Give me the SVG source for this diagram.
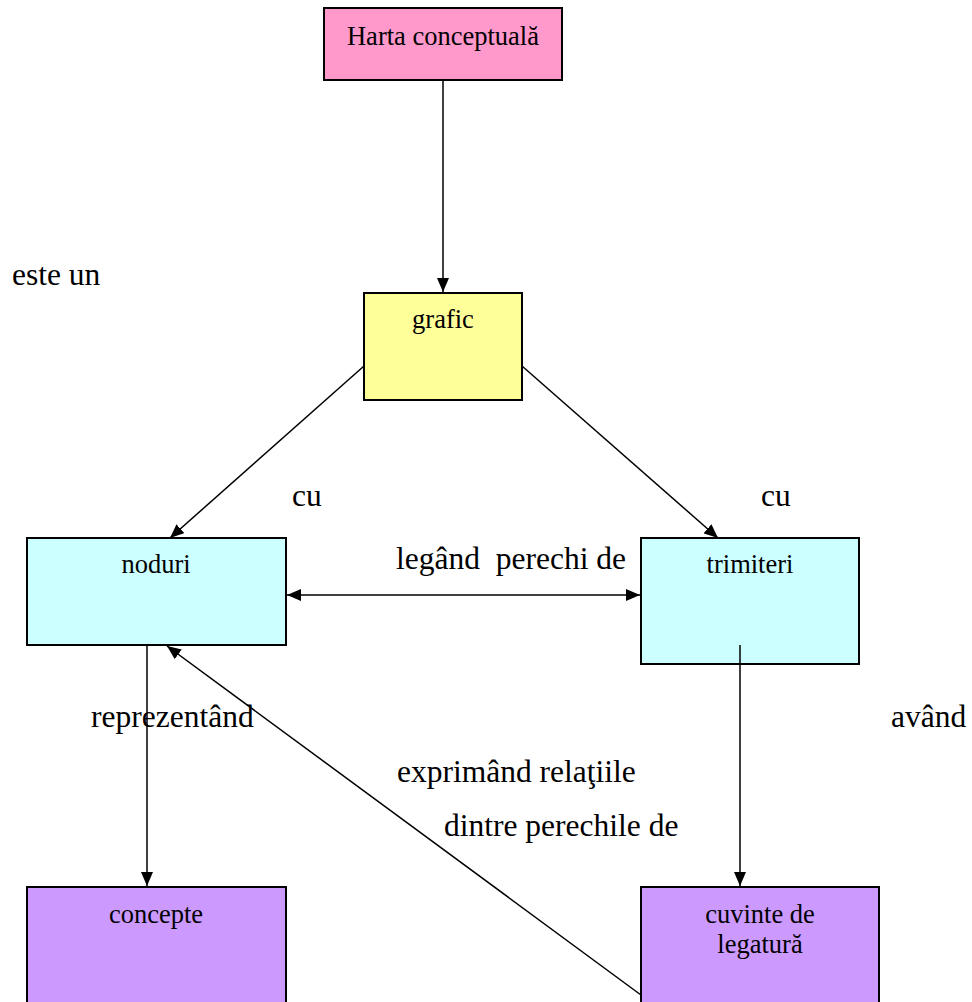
<svg xmlns="http://www.w3.org/2000/svg" width="972" height="1002" viewBox="0 0 972 1002">
<style>
.box{stroke:#000;stroke-width:2}
.bt{font-family:"Liberation Serif","Times New Roman",serif;font-size:26.5px;fill:#000;text-anchor:middle}
.lb{font-family:"Liberation Serif","Times New Roman",serif;font-size:31.5px;fill:#000}
.ln{stroke:#000;stroke-width:1.5;fill:none}
</style>
<defs>
<marker id="ah" viewBox="0 0 14 12" refX="14" refY="6" markerWidth="14" markerHeight="12" markerUnits="userSpaceOnUse" orient="auto">
<path d="M0,0 L14,6 L0,12 z" fill="#000"/>
</marker>
<marker id="as" viewBox="0 0 14 12" refX="0" refY="6" markerWidth="14" markerHeight="12" markerUnits="userSpaceOnUse" orient="auto">
<path d="M14,0 L0,6 L14,12 z" fill="#000"/>
</marker>
</defs>
<rect width="972" height="1002" fill="#fff"/>
<g id="node-harta">
<rect class="box" x="324" y="8" width="238" height="72" fill="#ff99cc"/>
<text class="bt" x="443" y="45">Harta conceptuală</text>
</g>
<g id="node-grafic">
<rect class="box" x="364" y="293" width="158" height="107" fill="#ffff99"/>
<text class="bt" x="443" y="328">grafic</text>
</g>
<g id="node-noduri">
<rect class="box" x="27" y="538" width="259" height="107" fill="#ccffff"/>
<text class="bt" x="156" y="573">noduri</text>
</g>
<g id="node-trimiteri">
<rect class="box" x="641" y="538" width="218" height="126" fill="#ccffff"/>
<text class="bt" x="750" y="573">trimiteri</text>
</g>
<g id="node-concepte">
<rect class="box" x="27" y="887" width="259" height="130" fill="#cc99ff"/>
<text class="bt" x="156" y="923">concepte</text>
</g>
<g id="node-cuvinte">
<rect class="box" x="641" y="887" width="238" height="130" fill="#cc99ff"/>
<text class="bt" x="760" y="923">cuvinte de</text>
<text class="bt" x="760" y="953">legatură</text>
</g>
<g id="connectors">
<line class="ln" x1="443" y1="81" x2="443" y2="292" marker-end="url(#ah)"/>
<line class="ln" x1="364" y1="366" x2="170" y2="538" marker-end="url(#ah)"/>
<line class="ln" x1="522" y1="366" x2="718" y2="538" marker-end="url(#ah)"/>
<line class="ln" x1="287" y1="595" x2="640" y2="595" marker-start="url(#as)" marker-end="url(#ah)"/>
<line class="ln" x1="147" y1="646" x2="147" y2="886" marker-end="url(#ah)"/>
<line class="ln" x1="740" y1="645" x2="740" y2="886" marker-end="url(#ah)"/>
<line class="ln" x1="641" y1="995" x2="167" y2="646" marker-end="url(#ah)"/>
</g>
<g id="labels">
<text class="lb" x="12" y="285">este un</text>
<text class="lb" x="292" y="506">cu</text>
<text class="lb" x="761" y="506">cu</text>
<text class="lb" x="396" y="569" xml:space="preserve">legând  perechi de</text>
<text class="lb" x="91" y="727">reprezentând</text>
<text class="lb" x="891" y="727">având</text>
<text class="lb" x="397" y="782">exprimând relaţiile</text>
<text class="lb" x="444" y="836">dintre perechile de</text>
</g>
</svg>
